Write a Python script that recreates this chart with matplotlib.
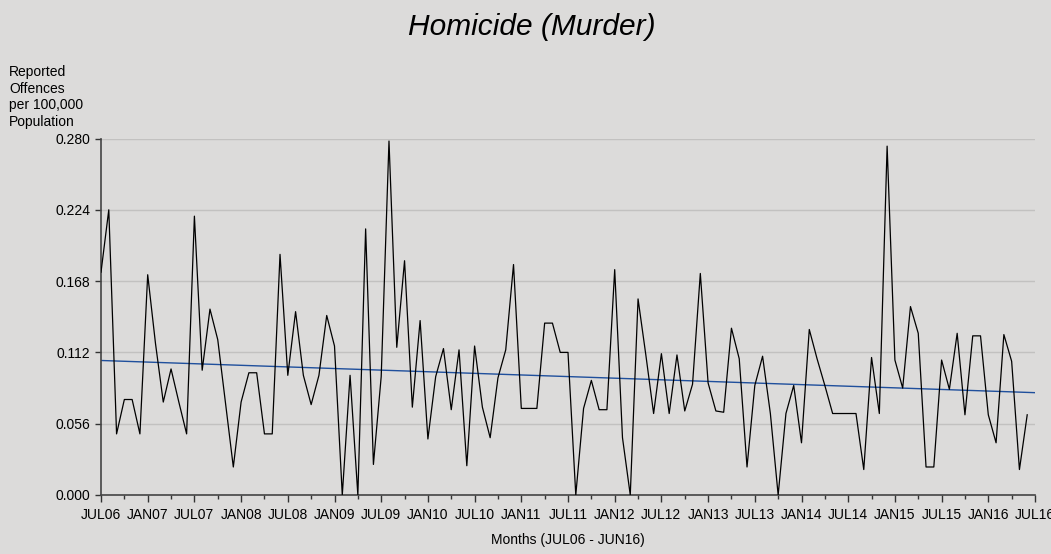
import numpy as np
import matplotlib
matplotlib.use("Agg")
from matplotlib import pyplot as plt
import matplotlib.ticker as ticker

plt.rcParams["font.family"] = ["Liberation Sans", "DejaVu Sans"]

# monthly rates, JUL06 .. JUN16 (120 months)
rates = [
    0.175, 0.224, 0.048, 0.075, 0.075, 0.048, 0.173, 0.119, 0.073, 0.099,
    0.073, 0.048, 0.219, 0.098, 0.146, 0.122, 0.072, 0.022, 0.073, 0.096,
    0.096, 0.048, 0.048, 0.189, 0.094, 0.144, 0.094, 0.071, 0.094, 0.141,
    0.117, 0.000, 0.094, 0.000, 0.209, 0.024, 0.093, 0.278, 0.116, 0.184,
    0.069, 0.137, 0.044, 0.093, 0.115, 0.067, 0.114, 0.023, 0.117, 0.069,
    0.045, 0.092, 0.114, 0.181, 0.068, 0.068, 0.068, 0.135, 0.135, 0.112,
    0.112, 0.000, 0.068, 0.090, 0.067, 0.067, 0.177, 0.045, 0.000, 0.154,
    0.110, 0.064, 0.111, 0.064, 0.110, 0.066, 0.087, 0.174, 0.088, 0.066,
    0.065, 0.131, 0.107, 0.022, 0.086, 0.109, 0.064, 0.000, 0.064, 0.086,
    0.041, 0.130, 0.107, 0.086, 0.064, 0.064, 0.064, 0.064, 0.020, 0.108,
    0.064, 0.274, 0.106, 0.084, 0.148, 0.127, 0.022, 0.022, 0.106, 0.083,
    0.127, 0.063, 0.125, 0.125, 0.063, 0.041, 0.126, 0.105, 0.020, 0.063,
]
tick_labels = ["JUL06", "JAN07", "JUL07", "JAN08", "JUL08", "JAN09", "JUL09",
               "JAN10", "JUL10", "JAN11", "JUL11", "JAN12", "JUL12", "JAN13",
               "JUL13", "JAN14", "JUL14", "JAN15", "JUL15", "JAN16", "JUL16"]
y_ticks = [0.000, 0.056, 0.112, 0.168, 0.224, 0.280]

bg = "#dcdbda"
months = np.arange(len(rates))

fig = plt.figure(figsize=(10.51, 5.54), dpi=100, facecolor=bg)
ax = fig.add_axes([101 / 1051, 59 / 554, 934 / 1051, 356.5 / 554])
ax.set_facecolor(bg)

ax.plot(months, rates, color="black", linewidth=0.9, zorder=3)

# linear trend across the whole axis
slope, icpt = np.polyfit(months, rates, 1)
xt = np.array([0, 120])
ax.plot(xt, slope * xt + icpt, color="#1f4f9c", linewidth=1.0, zorder=2)

ax.set_xlim(0, 120)
ax.set_ylim(0, 0.28)
ax.set_xticks(np.arange(0, 121, 6))
ax.set_xticklabels(tick_labels, fontsize=10)
ax.xaxis.set_minor_locator(ticker.MultipleLocator(3))
ax.set_yticks(y_ticks)
ax.yaxis.set_major_formatter(ticker.FormatStrFormatter("%.3f"))
ax.tick_params(axis="y", labelsize=10, length=4, width=1, color="#333333")
ax.tick_params(axis="x", which="major", length=5, width=1, color="#333333", pad=4.5)
ax.tick_params(axis="x", which="minor", length=3, width=1, color="#333333")

ax.grid(axis="y", color="#c2c1c0", linewidth=1.0)
ax.set_axisbelow(True)
for s in ["top", "right"]:
    ax.spines[s].set_visible(False)
for s in ["left", "bottom"]:
    ax.spines[s].set_color("#444444")
    ax.spines[s].set_linewidth(1.2)

fig.text(532 / 1051, 1 - 35 / 554, "Homicide (Murder)", ha="center", va="baseline",
         fontsize=21.5, style="italic")
fig.text(9 / 1051, 1 - 65 / 554, "Reported\nOffences\nper 100,000\nPopulation",
         ha="left", va="top", fontsize=10, linespacing=1.25, multialignment="left")
fig.text(568 / 1051, 1 - 540 / 554, "Months (JUL06 - JUN16)",
         ha="center", va="center", fontsize=10)

fig.savefig("out.png", dpi=100, facecolor=bg)
